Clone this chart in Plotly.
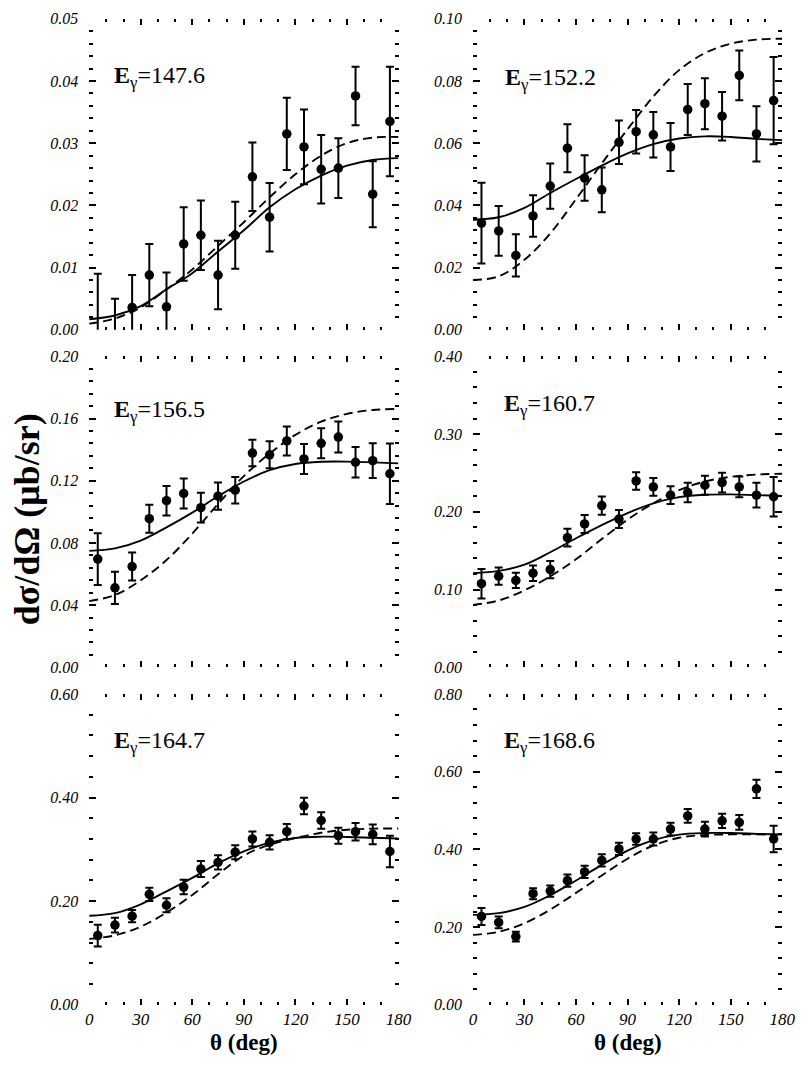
import plotly.graph_objects as go
from plotly.subplots import make_subplots

# ---------------- data ----------------
theta = [5, 15, 25, 35, 45, 55, 65, 75, 85, 95, 105, 115, 125, 135, 145, 155, 165, 175]
theta_curve = [0, 15, 30, 45, 60, 75, 90, 105, 120, 135, 150, 165, 180]

energies = ["147.6", "152.2", "156.5", "160.7", "164.7", "168.6"]

val_1476 = [-0.0015, -0.0015, 0.0036, 0.0088, 0.0037, 0.0138, 0.0152, 0.0088, 0.0152,
            0.0246, 0.0181, 0.0315, 0.0294, 0.0258, 0.0260, 0.0376, 0.0218, 0.0335]
err_1476 = [0.0105, 0.0065, 0.0052, 0.0050, 0.0055, 0.0059, 0.0056, 0.0055, 0.0054,
            0.0055, 0.0055, 0.0058, 0.0060, 0.0055, 0.0048, 0.0047, 0.0053, 0.0088]
solid_1476 = [0.0017, 0.0023, 0.0038, 0.0065, 0.0091, 0.0126, 0.0160, 0.0197, 0.0226,
              0.0248, 0.0264, 0.0273, 0.0276]
dash_1476 = [0.0010, 0.0018, 0.0036, 0.0065, 0.0097, 0.0135, 0.0173, 0.0213, 0.0250,
             0.0280, 0.0300, 0.0309, 0.0310]

val_1522 = [0.0343, 0.0318, 0.0239, 0.0366, 0.0462, 0.0584, 0.0488, 0.0450, 0.0603,
            0.0637, 0.0627, 0.0588, 0.0708, 0.0727, 0.0687, 0.0818, 0.0630, 0.0737]
err_1522 = [0.0130, 0.0080, 0.0068, 0.0067, 0.0073, 0.0077, 0.0073, 0.0072, 0.0070,
            0.0070, 0.0073, 0.0077, 0.0082, 0.0082, 0.0078, 0.0080, 0.0089, 0.0140]
solid_1522 = [0.0354, 0.0362, 0.0392, 0.0440, 0.0485, 0.0528, 0.0567, 0.0597, 0.0615,
              0.0622, 0.0620, 0.0614, 0.0610]
dash_1522 = [0.0160, 0.0172, 0.0225, 0.0310, 0.0420, 0.0535, 0.0645, 0.0750, 0.0835,
             0.0890, 0.0920, 0.0933, 0.0936]

val_1565 = [0.0696, 0.0511, 0.0648, 0.0956, 0.1072, 0.1118, 0.1027, 0.1101, 0.1139,
            0.1378, 0.1367, 0.1456, 0.1340, 0.1441, 0.1481, 0.1319, 0.1329, 0.1245]
err_1565 = [0.0167, 0.0103, 0.0090, 0.0090, 0.0095, 0.0097, 0.0095, 0.0087, 0.0085,
            0.0085, 0.0087, 0.0093, 0.0097, 0.0097, 0.0100, 0.0098, 0.0112, 0.0195]
solid_1565 = [0.0749, 0.0765, 0.0815, 0.0900, 0.0995, 0.1100, 0.1195, 0.1268, 0.1308,
              0.1322, 0.1323, 0.1318, 0.1312]
dash_1565 = [0.0426, 0.0465, 0.0560, 0.0690, 0.0860, 0.1050, 0.1230, 0.1375, 0.1495,
             0.1580, 0.1630, 0.1655, 0.1662]

val_1607 = [0.1076, 0.1173, 0.1118, 0.1211, 0.1257, 0.1667, 0.1844, 0.2080, 0.1907,
            0.2397, 0.2321, 0.2215, 0.2249, 0.2342, 0.2376, 0.2321, 0.2215, 0.2194]
err_1607 = [0.0190, 0.0110, 0.0097, 0.0099, 0.0110, 0.0114, 0.0116, 0.0116, 0.0116,
            0.0112, 0.0114, 0.0114, 0.0125, 0.0122, 0.0127, 0.0133, 0.0160, 0.0255]
solid_1607 = [0.1211, 0.1240, 0.1320, 0.1480, 0.1660, 0.1830, 0.1985, 0.2110, 0.2190,
              0.2220, 0.2225, 0.2215, 0.2205]
dash_1607 = [0.0802, 0.0860, 0.0990, 0.1170, 0.1390, 0.1650, 0.1900, 0.2110, 0.2280,
             0.2390, 0.2450, 0.2480, 0.2490]

val_1647 = [0.1336, 0.1540, 0.1712, 0.2132, 0.1922, 0.2272, 0.2622, 0.2749, 0.2946,
            0.3201, 0.3137, 0.3341, 0.3837, 0.3557, 0.3264, 0.3341, 0.3290, 0.2959]
err_1647 = [0.0210, 0.0143, 0.0120, 0.0127, 0.0136, 0.0140, 0.0153, 0.0137, 0.0134,
            0.0143, 0.0137, 0.0147, 0.0160, 0.0159, 0.0153, 0.0168, 0.0190, 0.0302]
solid_1647 = [0.1720, 0.1770, 0.1940, 0.2190, 0.2450, 0.2730, 0.2960, 0.3130, 0.3220,
              0.3245, 0.3240, 0.3225, 0.3210]
dash_1647 = [0.1273, 0.1340, 0.1510, 0.1780, 0.2120, 0.2520, 0.2880, 0.3090, 0.3220,
             0.3320, 0.3380, 0.3400, 0.3404]

val_1686 = [0.2274, 0.2121, 0.1756, 0.2859, 0.2927, 0.3198, 0.3419, 0.3716, 0.4013,
            0.4267, 0.4267, 0.4522, 0.4861, 0.4522, 0.4734, 0.4692, 0.5557, 0.4267]
err_1686 = [0.0220, 0.0150, 0.0127, 0.0140, 0.0144, 0.0157, 0.0157, 0.0157, 0.0157,
            0.0148, 0.0165, 0.0165, 0.0178, 0.0190, 0.0183, 0.0190, 0.0233, 0.0343]
solid_1686 = [0.2316, 0.2360, 0.2520, 0.2820, 0.3200, 0.3600, 0.3970, 0.4240, 0.4380,
              0.4420, 0.4420, 0.4400, 0.4380]
dash_1686 = [0.1800, 0.1880, 0.2100, 0.2450, 0.2880, 0.3330, 0.3760, 0.4100, 0.4300,
             0.4370, 0.4385, 0.4385, 0.4380]

values = [val_1476, val_1522, val_1565, val_1607, val_1647, val_1686]
errors = [err_1476, err_1522, err_1565, err_1607, err_1647, err_1686]
solids = [solid_1476, solid_1522, solid_1565, solid_1607, solid_1647, solid_1686]
dashes = [dash_1476, dash_1522, dash_1565, dash_1607, dash_1647, dash_1686]

y_max = [0.05, 0.10, 0.20, 0.40, 0.60, 0.80]
y_major = [0.01, 0.02, 0.04, 0.10, 0.20, 0.20]
y_minor = [0.002, 0.004, 0.008, 0.02, 0.04, 0.04]
x_ticks = [0, 30, 60, 90, 120, 150, 180]

# ---------------- figure ----------------
W, H = 806, 1067
FONT = "Liberation Serif, Times New Roman, serif"

fig = make_subplots(rows=3, cols=2)

col_px = [(87, 403), (479, 795)]
row_px = [(11, 327), (354, 670), (697, 1013)]
label_pos = [(110, 70), (510, 72), (110, 410), (509, 403), (110, 746), (509, 746)]

for i in range(6):
    r, c = i // 2 + 1, i % 2 + 1
    fig.add_trace(go.Scatter(
        x=theta_curve, y=dashes[i], mode="lines", line_shape="spline",
        line=dict(color="black", width=1.9, dash="9px,5px"), showlegend=False,
        hoverinfo="skip"), row=r, col=c)
    fig.add_trace(go.Scatter(
        x=theta_curve, y=solids[i], mode="lines", line_shape="spline",
        line=dict(color="black", width=1.9), showlegend=False,
        hoverinfo="skip"), row=r, col=c)
    fig.add_trace(go.Scatter(
        x=theta, y=values[i], mode="markers",
        marker=dict(color="black", size=9.5),
        error_y=dict(type="data", array=errors[i], visible=True,
                     color="black", thickness=2, width=4),
        showlegend=False), row=r, col=c)

    x0, x1 = col_px[c - 1]
    y0, y1 = row_px[r - 1]
    fig.update_xaxes(
        domain=[x0 / W, x1 / W], range=[0, 180], tickvals=x_ticks,
        ticks="inside", ticklen=6, tickwidth=1.5, tickcolor="black",
        showline=False, mirror="ticks", showgrid=False, zeroline=False,
        minor=dict(ticks="inside", ticklen=3, tickwidth=1.5, tickcolor="black",
                   dtick=10, tick0=0, showgrid=False),
        showticklabels=(r == 3),
        tickfont=dict(family=FONT, size=17, color="black", style="italic"),
        ticklabelstandoff=2,
        row=r, col=c)
    fig.update_yaxes(
        domain=[1 - y1 / H, 1 - y0 / H], range=[0, y_max[i]],
        tick0=0, dtick=y_major[i], tickformat=".2f",
        ticks="inside", ticklen=7, tickwidth=1.5, tickcolor="black",
        showline=False, mirror="ticks", showgrid=False, zeroline=False,
        minor=dict(ticks="inside", ticklen=4, tickwidth=1.5, tickcolor="black",
                   dtick=y_minor[i], tick0=0, showgrid=False),
        tickfont=dict(family=FONT, size=16, color="black", style="italic"),
        ticklabelstandoff=10,
        row=r, col=c)

    lx, ly = label_pos[i]
    fig.add_annotation(
        x=lx / W, y=1 - ly / H, xref="paper", yref="paper",
        xanchor="left", yanchor="middle", showarrow=False,
        text="<b>E</b><sub>γ</sub>=" + energies[i],
        font=dict(family=FONT, size=24, color="black"))

# axis titles
for cx in [(87 + 403) / 2, (479 + 795) / 2]:
    fig.add_annotation(
        x=cx / W, y=1 - 1051 / H, xref="paper", yref="paper",
        xanchor="center", yanchor="middle", showarrow=False,
        text="<b>θ (deg)</b>", font=dict(family=FONT, size=23, color="black"))

fig.add_annotation(
    x=23 / W, y=1 - 520 / H, xref="paper", yref="paper",
    xanchor="center", yanchor="middle", showarrow=False, textangle=-90,
    text="<b>dσ/dΩ (μb/sr)</b>", font=dict(family=FONT, size=36, color="black"))

fig.update_layout(
    width=W, height=H, margin=dict(l=0, r=0, t=0, b=0),
    paper_bgcolor="white", plot_bgcolor="white",
    font=dict(family=FONT, color="black"),
)

fig.write_html("out.html")
